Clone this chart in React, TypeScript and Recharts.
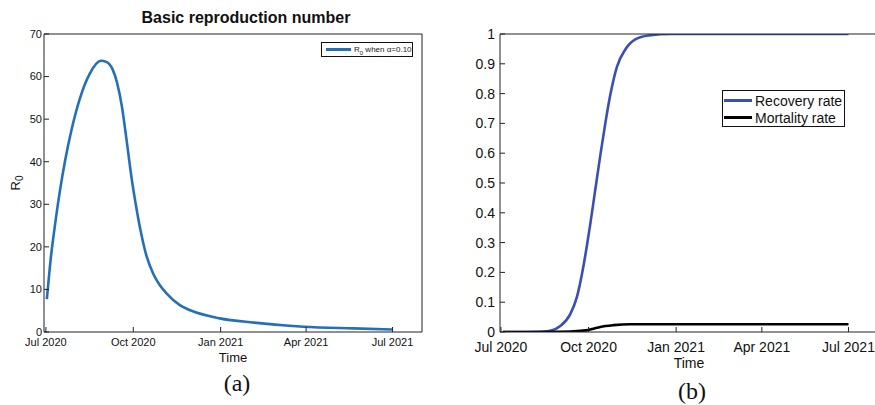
import React from 'react';
import { LineChart, Line, XAxis, YAxis, Legend } from 'recharts';

// ---- shared time axis (days since 1 Jul 2020) ----
const tickDays = [0, 92, 184, 274, 365];
const tickLabels = ['Jul 2020', 'Oct 2020', 'Jan 2021', 'Apr 2021', 'Jul 2021'];

// ---- panel (a): basic reproduction number ----
const r0Days = [1, 4.5, 9.8, 15, 20, 27, 36, 46.5, 58, 64, 70, 75, 80, 85, 90, 95, 100, 106, 113, 120, 127, 141, 152, 183, 219, 271, 324, 365];
const r0Values = [7.7, 16, 25.5, 33.5, 40, 47.5, 55, 60.8, 63.7, 63.4, 61.8, 58.5, 53, 45, 36.5, 29.5, 23.5, 17.8, 13.7, 11.0, 9.1, 6.3, 5.1, 3.2, 2.2, 1.25, 0.85, 0.6];
const r0Ticks = [0, 10, 20, 30, 40, 50, 60, 70];

// ---- panel (b): recovery and mortality rates ----
const recDays = [2, 20, 40, 51.8, 62.3, 72.8, 79.8, 85.1, 90.3, 93.8, 99.1, 104.3, 109.6, 114.8, 121.8, 130.6, 141.1, 155, 180, 220, 365];
const recValues = [0, 0, 0.0005, 0.004, 0.02, 0.06, 0.118, 0.195, 0.29, 0.362, 0.478, 0.592, 0.7, 0.795, 0.89, 0.948, 0.982, 0.995, 1.0, 1.0, 1.0];
const mortDays = [2, 40, 60, 76, 84, 92, 98, 104.3, 118.3, 135.8, 160, 365];
const mortValues = [0, 0, 0.0005, 0.002, 0.004, 0.007, 0.012, 0.017, 0.023, 0.026, 0.026, 0.026];
const rateTicks = [0, 0.1, 0.2, 0.3, 0.4, 0.5, 0.6, 0.7, 0.8, 0.9, 1];
const rateTickLabels = ['0', '0.1', '0.2', '0.3', '0.4', '0.5', '0.6', '0.7', '0.8', '0.9', '1'];

const r0Data = r0Days.map((d, i) => ({ day: d, r0: r0Values[i] }));
const recData = recDays.map((d, i) => ({ day: d, v: recValues[i] }));
const mortData = mortDays.map((d, i) => ({ day: d, v: mortValues[i] }));

const FONT = 'Liberation Sans, Arial, Helvetica, sans-serif';
const AX = '#222';
const BLUE_A = '#2470b6';
const BLUE_B = '#3a4fb0';

const fmtDay = (v: number) => {
  const i = tickDays.indexOf(v);
  return i >= 0 ? tickLabels[i] : '';
};
const fmtRate = (v: number) => {
  const i = rateTicks.findIndex((t) => Math.abs(t - v) < 1e-9);
  return i >= 0 ? rateTickLabels[i] : String(v);
};

const LegendA = () => (
  <div
    style={{
      width: 92,
      height: 15,
      border: '1px solid #111',
      background: '#fff',
      boxSizing: 'border-box',
      display: 'flex',
      alignItems: 'center',
      fontFamily: FONT,
      fontSize: 8,
      color: '#222',
      whiteSpace: 'nowrap',
    }}
  >
    <div style={{ width: 25, height: 2.5, background: BLUE_A, marginLeft: 4, marginRight: 3 }} />
    <span>
      R<sub style={{ fontSize: 6, verticalAlign: 'sub', lineHeight: 0 }}>0</sub> when {'\u03B1'}=0.10
    </span>
  </div>
);

const LegendB = () => (
  <div
    style={{
      width: 123,
      height: 37,
      border: '1px solid #111',
      background: '#fff',
      boxSizing: 'border-box',
      fontFamily: FONT,
      fontSize: 14,
      color: '#111',
      paddingTop: 1,
    }}
  >
    {[
      { name: 'Recovery rate', color: BLUE_B },
      { name: 'Mortality rate', color: '#000' },
    ].map((e) => (
      <div key={e.name} style={{ display: 'flex', alignItems: 'center', height: 17, whiteSpace: 'nowrap' }}>
        <div style={{ width: 28, height: 3, background: e.color, marginLeft: 1, marginRight: 3 }} />
        <span>{e.name}</span>
      </div>
    ))}
  </div>
);

const R0Label = (props: any) => {
  const vb = props.viewBox || { x: 0, y: 0, height: 0 };
  const cy = vb.y + vb.height / 2;
  return (
    <text
      x={0}
      y={0}
      transform={`translate(20, ${cy}) rotate(-90)`}
      textAnchor="middle"
      fontFamily={FONT}
      fontSize={13}
      fill="#111"
    >
      R<tspan dy={3} fontSize={10}>0</tspan>
    </text>
  );
};

export default function App() {
  return (
    <div
      style={{
        position: 'fixed',
        left: 0,
        top: 0,
        width: 875,
        height: 405,
        overflow: 'hidden',
        background: '#fff',
      }}
    >
      {/* Panel (a) */}
      <div style={{ position: 'absolute', left: 0, top: 0 }}>
        <LineChart width={440} height={405} margin={{ top: 33, right: 17, left: 0, bottom: 43 }}>
          <XAxis
            dataKey="day"
            type="number"
            domain={[-2, 396]}
            ticks={tickDays}
            tickFormatter={fmtDay}
            allowDataOverflow
            height={30}
            tickSize={-5}
            tickMargin={11}
            stroke={AX}
            tick={{ fill: '#111', fontSize: 11, fontFamily: FONT }}
            interval={0}
            label={{ value: 'Time', position: 'bottom', offset: -9, fill: '#111', fontSize: 13, fontFamily: FONT }}
          />
          <XAxis
            xAxisId="top"
            orientation="top"
            dataKey="day"
            type="number"
            domain={[-2, 396]}
            ticks={tickDays}
            allowDataOverflow
            height={1}
            tickSize={-5}
            tick={false}
            stroke={AX}
            interval={0}
          />
          <YAxis
            type="number"
            domain={[0, 70]}
            ticks={r0Ticks}
            allowDataOverflow
            width={44}
            tickSize={-5}
            tickMargin={7}
            stroke={AX}
            tick={{ fill: '#111', fontSize: 11, fontFamily: FONT }}
            interval={0}
            label={<R0Label />}
          />
          <YAxis
            yAxisId="right"
            orientation="right"
            type="number"
            domain={[0, 70]}
            ticks={r0Ticks}
            allowDataOverflow
            width={1}
            tickSize={-5}
            tick={false}
            stroke={AX}
            interval={0}
          />
          <Legend
            layout="horizontal"
            verticalAlign="middle"
            align="center"
            content={<LegendA />}
            wrapperStyle={{ position: 'absolute', left: 321, top: 42, width: 92, height: 15 }}
          />
          <Line
            data={r0Data}
            dataKey="r0"
            name="R0 when α=0.10"
            type="monotone"
            stroke={BLUE_A}
            strokeWidth={2.6}
            dot={false}
            isAnimationActive={false}
          />
        </LineChart>
      </div>

      {/* Panel (b) */}
      <div style={{ position: 'absolute', left: 440, top: 0 }}>
        <LineChart width={445} height={405} margin={{ top: 33, right: 6, left: 0, bottom: 43 }}>
          <XAxis
            dataKey="day"
            type="number"
            domain={[-1, 396]}
            ticks={tickDays}
            tickFormatter={fmtDay}
            allowDataOverflow
            height={30}
            tickSize={-5}
            tickMargin={15}
            stroke={AX}
            tick={{ fill: '#111', fontSize: 14, fontFamily: FONT }}
            interval={0}
            label={{ value: 'Time', position: 'bottom', offset: -4, fill: '#111', fontSize: 14, fontFamily: FONT }}
          />
          <XAxis
            xAxisId="top"
            orientation="top"
            dataKey="day"
            type="number"
            domain={[-1, 396]}
            ticks={tickDays}
            allowDataOverflow
            height={1}
            tickSize={-5}
            tick={false}
            stroke={AX}
            interval={0}
          />
          <YAxis
            type="number"
            domain={[0, 1]}
            ticks={rateTicks}
            tickFormatter={fmtRate}
            allowDataOverflow
            width={60}
            tickSize={-5}
            tickMargin={10}
            stroke={AX}
            tick={{ fill: '#111', fontSize: 14, fontFamily: FONT }}
            interval={0}
          />
          <YAxis
            yAxisId="right"
            orientation="right"
            type="number"
            domain={[0, 1]}
            ticks={rateTicks}
            allowDataOverflow
            width={1}
            tickSize={-5}
            tick={false}
            stroke={AX}
            interval={0}
          />
          <Legend
            layout="horizontal"
            verticalAlign="middle"
            align="center"
            content={<LegendB />}
            wrapperStyle={{ position: 'absolute', left: 282, top: 90, width: 123, height: 37 }}
          />
          <Line
            data={recData}
            dataKey="v"
            name="Recovery rate"
            type="monotone"
            stroke={BLUE_B}
            strokeWidth={2.6}
            dot={false}
            isAnimationActive={false}
          />
          <Line
            data={mortData}
            dataKey="v"
            name="Mortality rate"
            type="monotone"
            stroke="#000"
            strokeWidth={2.6}
            dot={false}
            isAnimationActive={false}
          />
        </LineChart>
      </div>

      {/* Titles and captions */}
      <svg
        width={875}
        height={405}
        style={{ position: 'absolute', left: 0, top: 0, pointerEvents: 'none' }}
      >
        <text x={246} y={23} textAnchor="middle" fontFamily={FONT} fontWeight="bold" fontSize={16} fill="#111">
          Basic reproduction number
        </text>
        <text x={237} y={391} textAnchor="middle" fontFamily="Liberation Serif, Times New Roman, serif" fontSize={24} fill="#111">
          (a)
        </text>
        <text x={692} y={399} textAnchor="middle" fontFamily="Liberation Serif, Times New Roman, serif" fontSize={24} fill="#111">
          (b)
        </text>
      </svg>
    </div>
  );
}
